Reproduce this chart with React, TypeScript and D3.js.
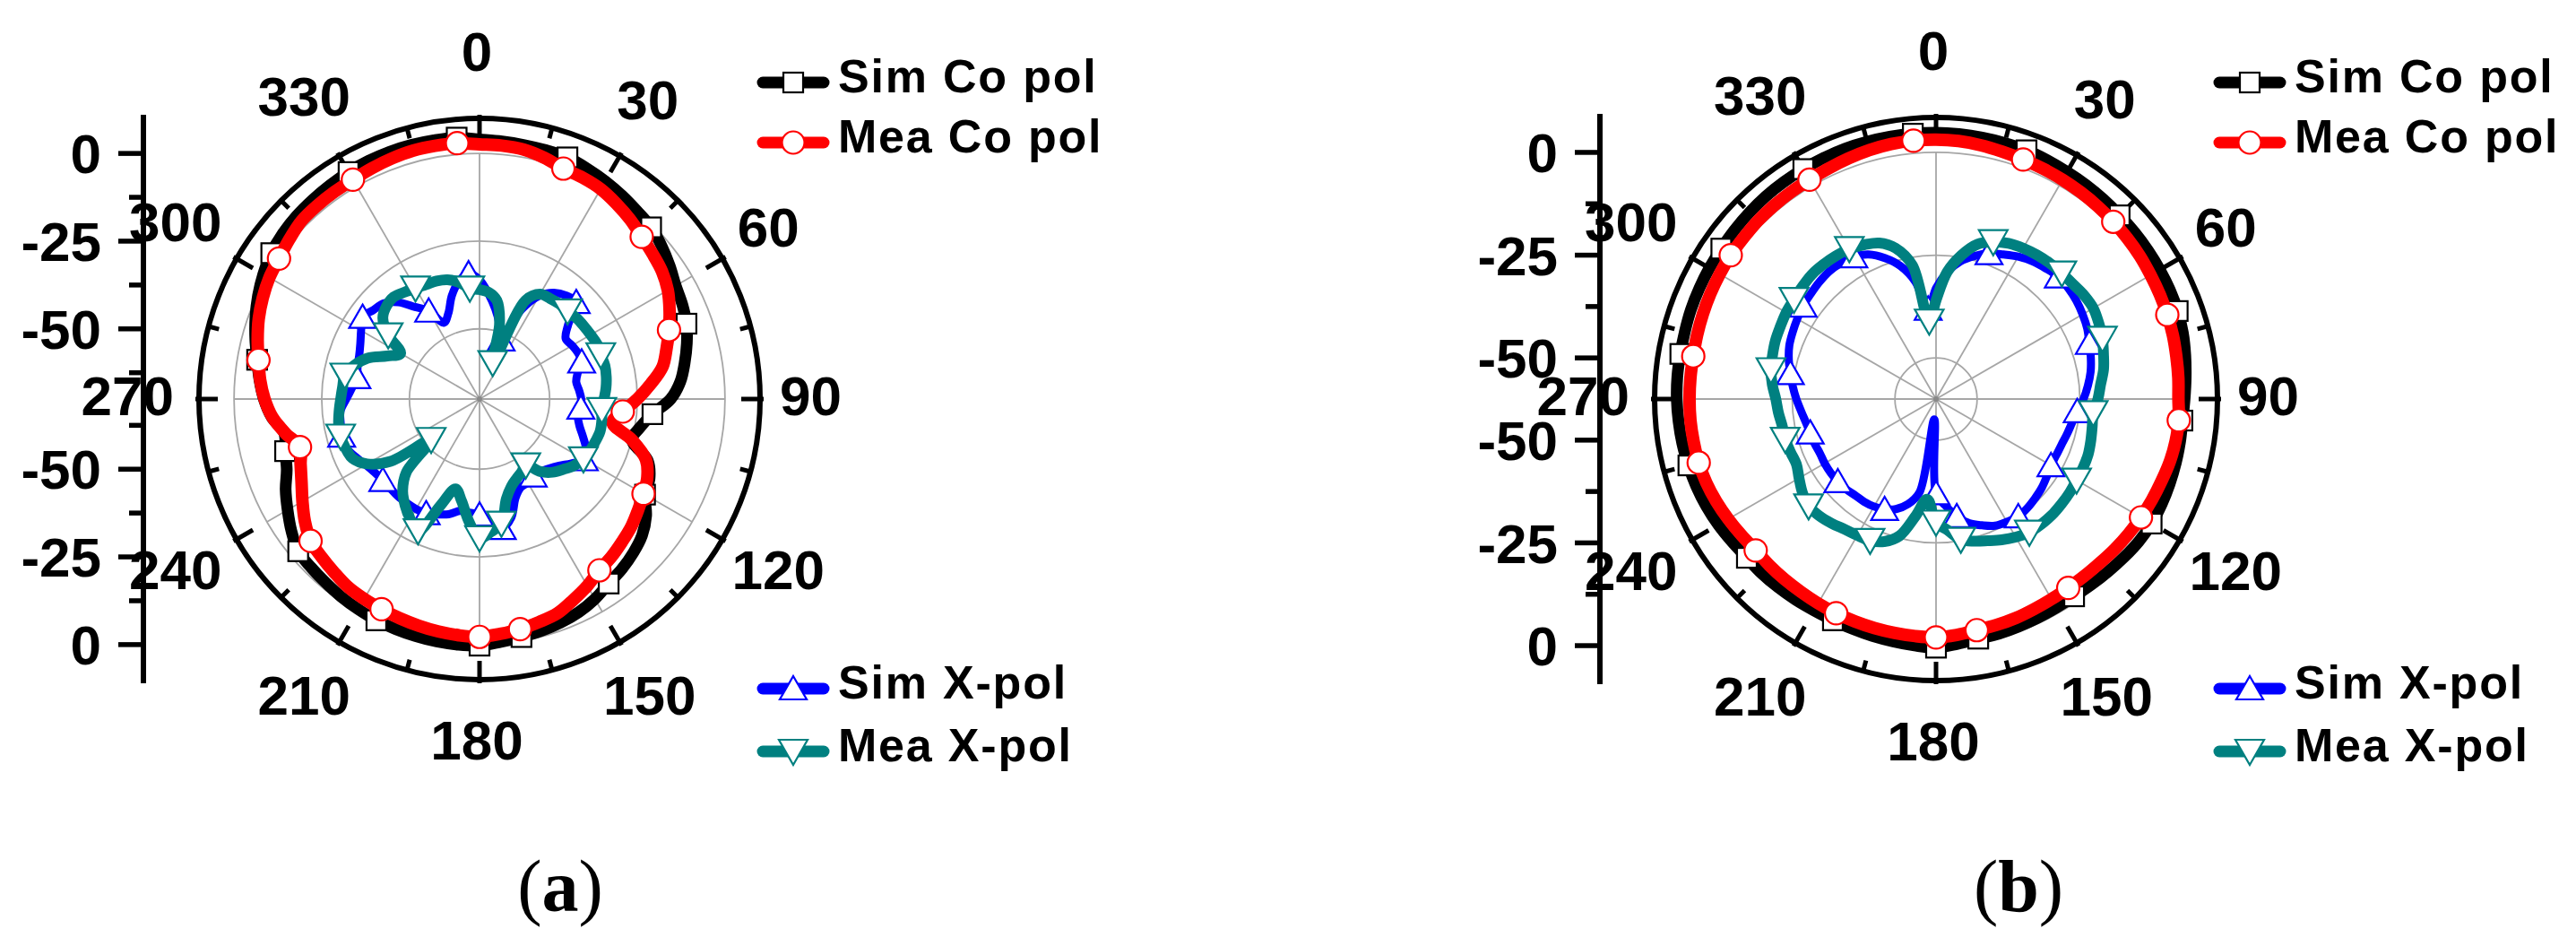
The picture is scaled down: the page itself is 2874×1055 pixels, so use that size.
import React from "react";
import * as d3 from "d3";

// ---------- data ----------
const ANGLES = [
  0, 5, 10, 15, 20, 25, 30, 35, 40, 45, 50, 55, 60, 65, 70, 75, 80, 85,
  90, 95, 100, 105, 110, 115, 120, 125, 130, 135, 140, 145, 150, 155, 160, 165, 170, 175,
  180, 185, 190, 195, 200, 205, 210, 215, 220, 225, 230, 235, 240, 245, 250, 255, 260, 265,
  270, 275, 280, 285, 290, 295, 300, 305, 310, 315, 320, 325, 330, 335, 340, 345, 350, 355,
];
// data points that carry a symbol (one every 25 degrees starting at 180)
const MARKER_ANGLES = [180, 205, 230, 255, 280, 305, 330, 355, 20, 45, 70, 95, 120, 145, 170];
const ANGLE_TICKS = [0, 30, 60, 90, 120, 150, 180, 210, 240, 270, 300, 330];
const RADIAL_LABELS = [0, -25, -50];
const RADIAL_MINOR = [-12.5, -37.5, -62.5];
const GRID_VALUES = [-50, -25, 0];
const SERIES_NAMES = ["Sim Co pol", "Mea Co pol", "Sim X-pol", "Mea X-pol"];

// panel (a)
const A_SIM_CO = [
  4.0, 3.7, 3.5, 3.4, 3.3, 2.5, 1.7, 0.8, -0.1, -0.8, -2.2, -3.8, -5.4, -6.2, -7.2, -8.8, -10.6, -12.5,
  -15.5, -20.5, -23.5, -25, -19, -16.5, -15.5, -12, -9.5, -8, -6.8, -5.8, -4.2, -3, -2.2, -1.6, -1.1, -0.5,
  0.3, 0.3, 0.2, 0, -0.2, -0.4, -0.8, -1.2, -1.7, -2.1, -2.5, -4.5, -6.8, -9, -11.5, -12.6, -13.5, -10.5,
  -8.5, -7, -5.6, -3.8, -2, -0.3, 1.2, 2.5, 3.3, 3.8, 4.1, 4.4, 4.7, 4.9, 5, 5, 4.9, 4.8,
];
const A_MEA_CO = [
  2.6, 2.5, 2.2, 1.2, -0.1, -0.4, -0.9, -2, -3.2, -4.6, -5.6, -6.5, -8, -10.2, -12.5, -14.8, -17, -21,
  -25, -29, -31.5, -25, -19.5, -17.2, -16, -14.8, -13.5, -12.5, -11.4, -10.4, -8.5, -6.8, -5, -4.2, -3.4, -2.8,
  -2.2, -2.4, -2.7, -3.1, -3.5, -3.9, -4.2, -4.6, -5.5, -6.3, -7.1, -9.2, -11.7, -14, -15.7, -17, -13.8, -10.7,
  -8.7, -7.2, -6, -4.5, -3, -1.8, -0.8, -0.2, 0.8, 1.8, 2, 2.1, 2.2, 2.6, 3, 3.3, 3.3, 3.2,
];
const A_SIM_X = [
  -36, -40, -44, -48, -52, -42, -36, -33, -31.5, -31, -37, -40, -39.5, -39, -39, -41, -42, -41.5,
  -41, -41, -41.5, -40.5, -38.6, -36.5, -35.5, -38, -40.4, -42, -43, -43.3, -42.5, -42.2, -40, -35, -32.6, -35,
  -37, -37.5, -37.6, -36, -35, -34, -33.8, -33.8, -33.8, -34, -34, -33.5, -32.5, -31, -29.5, -29.3, -29.8, -30.2,
  -32, -33.5, -34.5, -34, -33.5, -32.5, -31, -29.3, -30.5, -31.4, -34, -38, -41, -46, -44, -39.5, -36, -34.1,
];
const A_MEA_X = [
  -38.8, -39.5, -41.5, -48, -59, -39, -35.5, -35, -34.6, -34.5, -34, -33.7, -33.4, -33, -33.2, -33, -33.3, -33.8,
  -34.5, -35, -34.6, -34.4, -34.8, -35.2, -35.8, -37, -38.8, -40.5, -43, -47, -46, -45, -43.5, -40.5, -34, -32,
  -30.4, -35, -40.5, -43.5, -38, -28.5, -30.5, -33, -35.9, -40.5, -52, -39, -33, -30, -29.3, -29, -29.2, -29.8,
  -30.4, -30.8, -31, -33, -36, -41, -44, -38.2, -34, -32.5, -32, -32.8, -33.5, -34, -34.2, -34.8, -36.2, -38.3,
];

// panel (b)
const B_SIM_CO = [
  4.8, 4.7, 4.6, 4.5, 4.4, 4.1, 3.8, 3.6, 3.4, 3.2, 3.1, 3, 2.9, 2.8, 2.6, 2.2, 1.6, 1,
  0.5, 0.2, 0.3, 0.4, 0.5, 0.6, 0.6, 0.3, -0.2, -0.7, -1.1, -1.4, -1.4, -1.3, -1.1, -0.9, -0.8, -0.2,
  0.5, 0.2, -0.1, -0.3, -0.5, -0.6, -0.6, -0.4, -0.2, 0, 0.1, 0.6, 1.2, 1.7, 2.1, 2.4, 2.7, 2.9,
  3.1, 3.2, 3.2, 3.3, 3.5, 3.6, 3.7, 3.8, 4, 4.2, 4.4, 4.5, 4.6, 4.7, 4.8, 4.8, 4.8, 4.8,
];
const B_MEA_CO = [
  3.1, 3, 2.7, 2.3, 2, 1.8, 1.6, 1.4, 1.2, 1, 0.8, 0.6, 0.3, 0.1, -0.1, -0.3, -0.6, -0.8,
  -1, -0.7, -0.8, -1.1, -1.6, -2, -2.4, -2.8, -3.2, -3.6, -3.8, -3.9, -3.8, -3.6, -3.3, -3.1, -2.9, -2.4,
  -2, -2.1, -2.2, -2.3, -2.4, -2.5, -2.6, -2.7, -2.7, -2.7, -2.7, -2.2, -1.6, -1, -0.5, -0.2, -0.1, 0,
  0, 0, 0, 0.2, 0.4, 0.6, 0.8, 1, 1.1, 1.3, 1.4, 1.5, 1.6, 1.9, 2.3, 2.7, 3, 3.1,
];
const B_SIM_X = [
  -33, -29, -26, -24, -22.3, -21.2, -20, -19.1, -18.5, -17.9, -18, -18.3, -18.8, -19.4, -20.3, -21, -21.8, -22.9,
  -24.1, -25.5, -26.4, -27, -27.5, -27.7, -27.7, -27.1, -26.4, -25.9, -25.4, -25.1, -25.5, -26, -27.3, -28.7, -31, -34,
  -37, -55, -37, -33.5, -31.5, -30.4, -29.8, -29.5, -29.4, -29, -28.8, -28.7, -28.7, -28.8, -28.5, -28.3, -27.8, -27,
  -26, -25, -24, -22.9, -22, -21.5, -21, -20.5, -20.2, -19.8, -19.5, -19.6, -20, -21.2, -23.5, -26.5, -31, -38,
];
const B_MEA_X = [
  -36, -29, -24.5, -21, -19.3, -18.2, -17.6, -17.2, -16.9, -16.7, -16.5, -16, -15.8, -16.3, -16.9, -17.8, -18.6, -19.8,
  -20.6, -21.6, -21.4, -21, -20.6, -20.5, -20.5, -20.3, -20.2, -20.1, -20.2, -20.4, -21.2, -22.2, -23.3, -24.2, -25.3, -28,
  -30, -35.5, -31, -25.5, -23.1, -22, -21.7, -21.3, -20.5, -19.8, -19.5, -20.3, -21.5, -22.5, -22.3, -22, -22, -21.5,
  -21, -20, -19.2, -18.8, -18.4, -18.2, -17.9, -17.8, -17.5, -17.2, -17.3, -17.5, -17.8, -18.6, -19.6, -22, -27, -41,
];

// ---------- styles ----------
const W = 2874;
const H = 1055;
const SANS = "'Liberation Sans', Arial, Helvetica, sans-serif";
const SERIF = "'Liberation Serif', 'Times New Roman', serif";
const STYLES = [
  { color: "#000000", width: 13, marker: "square" },
  { color: "#ff0000", width: 14, marker: "circle" },
  { color: "#0000ff", width: 9, marker: "up" },
  { color: "#008080", width: 12, marker: "down" },
];

function Marker({ kind, color, x, y }: { kind: string; color: string; x: number; y: number }) {
  const sw = 2.2;
  if (kind === "square")
    return <rect x={x - 11} y={y - 11} width={22} height={22} fill="#fff" stroke={color} strokeWidth={sw} />;
  if (kind === "circle") return <circle cx={x} cy={y} r={12.5} fill="#fff" stroke={color} strokeWidth={sw} />;
  if (kind === "up")
    return (
      <polygon
        points={`${x},${y - 14} ${x + 15},${y + 12} ${x - 15},${y + 12}`}
        fill="#fff"
        stroke={color}
        strokeWidth={sw}
      />
    );
  return (
    <polygon
      points={`${x},${y + 15} ${x + 16},${y - 13} ${x - 16},${y - 13}`}
      fill="#fff"
      stroke={color}
      strokeWidth={sw}
    />
  );
}

type PanelProps = {
  cx: number;
  cy: number;
  R: number;
  domain: [number, number];
  series: number[][];
  caption: string;
  captionX: number;
};

function Panel({ cx, cy, R, domain, series, caption, captionX }: PanelProps) {
  const r = d3.scaleLinear().domain(domain).range([0, R]).clamp(true);
  const rad = (d: number) => (d * Math.PI) / 180;
  const px = (deg: number, rr: number) => cx + rr * Math.sin(rad(deg));
  const py = (deg: number, rr: number) => cy - rr * Math.cos(rad(deg));

  const radial = d3
    .lineRadial<number>()
    .angle((_, i) => rad(ANGLES[i]))
    .radius((v) => r(v))
    .curve(d3.curveCatmullRomClosed.alpha(0.5));

  const axisX = cx - 375;
  const fsTick = 62;

  // angle-label placement: text box kept at a fixed gap outside the ring
  const labelPos = (a: number) => {
    const s = Math.sin(rad(a));
    const c = Math.cos(rad(a));
    const halfW = (String(a).length * 0.556 * fsTick) / 2;
    const ext = Math.sqrt((s * halfW) ** 2 + (c * 46) ** 2);
    const rr = R + 25 + ext;
    return [cx - 3 + rr * s, cy - 4 - rr * c];
  };

  const minorTicks = RADIAL_MINOR.filter((v) => v >= domain[0] && v <= domain[1]);
  const minorAngles = ANGLE_TICKS.map((a) => a + 15);

  const legendY = [cy - 353, cy - 286, cy + 323, cy + 393];

  return (
    <g>
      {/* grid circles */}
      {GRID_VALUES.map((v) => (
        <circle key={"g" + v} cx={cx} cy={cy} r={r(v)} fill="none" stroke="#a6a6a6" strokeWidth={1.8} />
      ))}
      {/* radial grid lines */}
      {ANGLE_TICKS.map((a) => (
        <line
          key={"rl" + a}
          x1={cx}
          y1={cy}
          x2={px(a, r(0))}
          y2={py(a, r(0))}
          stroke="#a6a6a6"
          strokeWidth={1.8}
        />
      ))}
      <circle cx={cx} cy={cy} r={3} fill="#888" />

      {/* outer ring + ticks */}
      <circle cx={cx} cy={cy} r={R} fill="none" stroke="#000" strokeWidth={6} />
      {ANGLE_TICKS.map((a) => (
        <line
          key={"mt" + a}
          x1={px(a, R + 4)}
          y1={py(a, R + 4)}
          x2={px(a, R - 21)}
          y2={py(a, R - 21)}
          stroke="#000"
          strokeWidth={5}
        />
      ))}
      {minorAngles.map((a) => (
        <line
          key={"nt" + a}
          x1={px(a, R)}
          y1={py(a, R)}
          x2={px(a, R - 12)}
          y2={py(a, R - 12)}
          stroke="#000"
          strokeWidth={5}
        />
      ))}

      {/* series */}
      {series.map((vals, si) => {
        const st = STYLES[si];
        return (
          <g key={"s" + si}>
            <path
              d={radial(vals) || ""}
              transform={`translate(${cx},${cy})`}
              fill="none"
              stroke={st.color}
              strokeWidth={st.width}
              strokeLinejoin="round"
            />
            {ANGLES.map((a, i) =>
              MARKER_ANGLES.includes(a) ? (
                <Marker
                  key={"m" + si + "-" + a}
                  kind={st.marker}
                  color={st.color}
                  x={px(a, r(vals[i]))}
                  y={py(a, r(vals[i]))}
                />
              ) : null
            )}
          </g>
        );
      })}

      {/* angle labels */}
      {ANGLE_TICKS.map((a) => {
        const [lx, ly] = labelPos(a);
        return (
          <text
            key={"al" + a}
            x={lx}
            y={ly + 0.358 * fsTick}
            textAnchor="middle"
            fontFamily={SANS}
            fontWeight="bold"
            fontSize={fsTick}
            fill="#000"
          >
            {a}
          </text>
        );
      })}

      {/* left radial axis */}
      <line x1={axisX} y1={cy - R - 4} x2={axisX} y2={cy + R + 4} stroke="#000" strokeWidth={6} />
      {RADIAL_LABELS.map((v) =>
        [-1, 1].map((s) => (
          <g key={"rt" + v + s}>
            <line
              x1={axisX - 28}
              x2={axisX}
              y1={cy + s * r(v)}
              y2={cy + s * r(v)}
              stroke="#000"
              strokeWidth={5.5}
            />
            <text
              x={axisX - 47}
              y={cy + s * r(v) + 0.358 * fsTick}
              textAnchor="end"
              fontFamily={SANS}
              fontWeight="bold"
              fontSize={fsTick}
              fill="#000"
            >
              {v}
            </text>
          </g>
        ))
      )}
      {minorTicks.map((v) =>
        [-1, 1].map((s) => (
          <line
            key={"rm" + v + s}
            x1={axisX - 16}
            x2={axisX}
            y1={cy + s * r(v)}
            y2={cy + s * r(v)}
            stroke="#000"
            strokeWidth={5.5}
          />
        ))
      )}

      {/* legend */}
      {SERIES_NAMES.map((name, si) => {
        const st = STYLES[si];
        const y = legendY[si];
        return (
          <g key={"lg" + si}>
            <line
              x1={cx + 316}
              x2={cx + 384}
              y1={y}
              y2={y}
              stroke={st.color}
              strokeWidth={13}
              strokeLinecap="round"
            />
            <Marker kind={st.marker} color={st.color} x={cx + 350} y={y} />
            <text
              x={cx + 400}
              y={y + 11}
              fontFamily={SANS}
              fontWeight="bold"
              fontSize={52}
              letterSpacing={1.8}
              fill="#000"
            >
              {name}
            </text>
          </g>
        );
      })}

      {/* caption */}
      <text x={captionX} y={1016} textAnchor="middle" fontFamily={SERIF} fontSize={82} fill="#000">
        (<tspan fontWeight="bold">{caption}</tspan>)
      </text>
    </g>
  );
}

export default function App() {
  return (
    <svg
      width={W}
      height={H}
      viewBox={`0 0 ${W} ${H}`}
      style={{ position: "absolute", left: 0, top: 0, display: "block", background: "#fff" }}
    >
      <rect x={0} y={0} width={W} height={H} fill="#ffffff" />
      <Panel
        cx={535}
        cy={445}
        R={313}
        domain={[-70, 10]}
        series={[A_SIM_CO, A_MEA_CO, A_SIM_X, A_MEA_X]}
        caption="a"
        captionX={625}
      />
      <Panel
        cx={2160}
        cy={445}
        R={314}
        domain={[-60, 8.5]}
        series={[B_SIM_CO, B_MEA_CO, B_SIM_X, B_MEA_X]}
        caption="b"
        captionX={2252}
      />
    </svg>
  );
}
